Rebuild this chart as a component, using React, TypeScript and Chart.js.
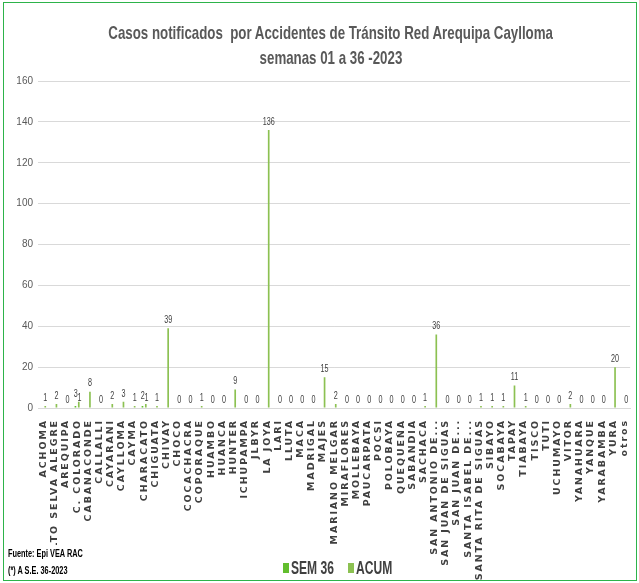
import React, { useEffect, useRef } from "react";
import { Chart, registerables } from "chart.js";

Chart.register(...registerables);

const titleLines = [
  "Casos notificados  por Accidentes de Tránsito Red Arequipa Caylloma",
  "semanas 01 a 36 -2023",
];

const categories = [
  "ACHOMA", "ALTO SELVA ALEGRE", "AREQUIPA", "C. COLORADO", "CABANACONDE",
  "CALLALLI", "CAYARANI", "CAYLLOMA", "CAYMA", "CHARACATO", "CHIGUATA",
  "CHIVAY", "CHOCO", "COCACHACRA", "COPORAQUE", "HUAMBO", "HUANCA", "HUNTER",
  "ICHUPAMPA", "JLBYR", "LA JOYA", "LARI", "LLUTA", "MACA", "MADRIGAL",
  "MAJES", "MARIANO MELGAR", "MIRAFLORES", "MOLLEBAYA", "PAUCARPATA", "POCSI",
  "POLOBAYA", "QUEQUEÑA", "SABANDIA", "SACHACA", "SAN ANTONIO DE...",
  "SAN JUAN DE SIGUAS", "SAN JUAN DE...", "SANTA ISABEL DE...",
  "SANTA RITA DE SIGUAS", "SIBAYO", "SOCABAYA", "TAPAY", "TIABAYA", "TISCO",
  "TUTI", "UCHUMAYO", "VITOR", "YANAHUARA", "YANQUE", "YARABAMBA", "YURA",
  "otros",
];

const sem36: (number | null)[] = [
  null, null, null, 1, null, null, null, null, null, 1, null,
  null, null, null, null, null, null, null, null, null, null, null,
  null, null, null, null, null, null, null, null, null, null, null,
  null, null, null, null, null, null, null, null, null, null, null,
  null, null, null, null, null, null, null, null, null,
];

const acum: number[] = [
  1, 2, 0, 3, 8, 0, 2, 3, 1, 2, 1,
  39, 0, 0, 1, 0, 0, 9, 0, 0, 136, 0,
  0, 0, 0, 15, 2, 0, 0, 0, 0, 0, 0,
  0, 1, 36, 0, 0, 0, 1, 1, 1, 11, 1,
  0, 0, 0, 2, 0, 0, 0, 20, 0,
];

const seriesNames = ["SEM 36", "ACUM"];
const seriesColors = ["#62BE2E", "#8CC152"];

const yMin = 0;
const yMax = 160;
const yStep = 20;

const sans = "'Liberation Sans', Arial, sans-serif";

const valueLabels = {
  id: "valueLabels",
  afterDatasetsDraw(chart: any) {
    const ctx = chart.ctx;
    ctx.save();
    ctx.font = "10px " + sans;
    ctx.fillStyle = "#404040";
    ctx.textAlign = "center";
    ctx.textBaseline = "bottom";
    chart.data.datasets.forEach((ds: any, i: number) => {
      const meta = chart.getDatasetMeta(i);
      meta.data.forEach((bar: any, j: number) => {
        const v = ds.data[j];
        if (v === null || v === undefined) return;
        const other = chart.data.datasets[1 - i].data[j];
        let dx = 0;
        if (other !== null && other !== undefined) dx = i === 0 ? 4 : -3;
        ctx.save();
        ctx.translate(bar.x + dx, bar.y - 3);
        ctx.scale(0.72, 1);
        ctx.fillText(String(v), 0, 0);
        ctx.restore();
      });
    });
    ctx.restore();
  },
};

const spacedXLabels = {
  id: "spacedXLabels",
  afterLayout(chart: any) {
    const s = chart.scales.x;
    if (s && !s.__spaced) {
      const orig = s.drawLabels.bind(s);
      s.drawLabels = (area: any) => {
        const ctx = chart.ctx;
        ctx.save();
        ctx.letterSpacing = "1.9px";
        orig(area);
        ctx.restore();
      };
      s.__spaced = true;
    }
  },
};

export default function App() {
  const canvasRef = useRef<HTMLCanvasElement | null>(null);

  useEffect(() => {
    if (!canvasRef.current) return;
    const chart = new Chart(canvasRef.current, {
      type: "bar",
      data: {
        labels: categories,
        datasets: [
          {
            label: seriesNames[0],
            data: sem36,
            backgroundColor: seriesColors[0],
            categoryPercentage: 0.6,
            barPercentage: 0.5,
          },
          {
            label: seriesNames[1],
            data: acum,
            backgroundColor: seriesColors[1],
            categoryPercentage: 0.6,
            barPercentage: 0.5,
          },
        ],
      },
      options: {
        animation: false,
        responsive: false,
        maintainAspectRatio: false,
        layout: { padding: { left: 0, right: 6, top: 81, bottom: 0 } },
        plugins: {
          legend: { display: false },
          tooltip: { enabled: false },
          title: { display: false },
        },
        scales: {
          x: {
            grid: { display: false },
            border: { display: true, color: "#D9D9D9" },
            ticks: {
              autoSkip: false,
              maxRotation: 90,
              minRotation: 90,
              padding: 3,
              color: "#404040",
              font: { family: "'DejaVu Sans', sans-serif", size: 9.5, weight: "bold" },
            },
            afterFit(scale: any) {
              scale.height = 175;
            },
          },
          y: {
            min: yMin,
            max: yMax,
            ticks: {
              stepSize: yStep,
              padding: 5,
              color: "#595959",
              font: { family: sans, size: 10 },
            },
            grid: { color: "#D9D9D9", drawTicks: false },
            border: { display: false },
            afterFit(scale: any) {
              scale.width = 38;
            },
          },
        },
      },
      plugins: [valueLabels, spacedXLabels],
    });
    return () => chart.destroy();
  }, []);

  const titleStyle = (top: number): React.CSSProperties => ({
    position: "absolute",
    left: 11,
    top,
    width: 639,
    textAlign: "center",
    fontFamily: sans,
    fontWeight: "bold",
    fontSize: 19,
    lineHeight: "24px",
    color: "#595959",
    whiteSpace: "pre",
  });

  return (
    <div
      style={{
        position: "absolute",
        left: 0,
        top: 0,
        width: 639,
        height: 583,
        background: "#fff",
        overflow: "hidden",
      }}
    >
      <canvas
        ref={canvasRef}
        width={639}
        height={583}
        style={{ position: "absolute", left: 0, top: 0, width: 639, height: 583 }}
      />
      {titleLines.map((t, i) => (
        <div key={i} style={titleStyle(21 + i * 25)}>
          <span style={{ display: "inline-block", transform: "scaleX(0.7)" }}>{t}</span>
        </div>
      ))}
      <div
        style={{
          position: "absolute",
          left: 3,
          top: 2,
          width: 632,
          height: 577,
          border: "1.5px solid #2DB34A",
          pointerEvents: "none",
        }}
      />
      <div
        style={{
          position: "absolute",
          left: 8,
          top: 545,
          fontFamily: sans,
          fontWeight: "bold",
          fontSize: 10.5,
          lineHeight: "17px",
          color: "#000",
          background: "#fff",
          width: 80,
        }}
      >
        <div style={{ transform: "scaleX(0.7)", transformOrigin: "0 0", whiteSpace: "pre" }}>Fuente: Epi VEA RAC</div>
        <div style={{ transform: "scaleX(0.7)", transformOrigin: "0 0", whiteSpace: "pre" }}>(*) A S.E. 36-2023</div>
      </div>
      <div
        style={{
          position: "absolute",
          left: 283,
          top: 557,
          display: "flex",
          alignItems: "center",
          fontFamily: sans,
          fontWeight: "bold",
          fontSize: 18,
          color: "#404040",
          lineHeight: "22px",
        }}
      >
        {seriesNames.map((n, i) => (
          <div key={n} style={{ display: "flex", alignItems: "center", marginRight: i === 0 ? 14 : 0 }}>
            <span
              style={{
                display: "inline-block",
                width: 6,
                height: 10,
                background: seriesColors[i],
                marginRight: 2,
              }}
            />
            <span
              style={{
                display: "inline-block",
                whiteSpace: "pre",
                transform: "scaleX(0.67)",
                transformOrigin: "0 50%",
                width: i === 0 ? 43 : 35,
              }}
            >
              {n}
            </span>
          </div>
        ))}
      </div>
    </div>
  );
}
